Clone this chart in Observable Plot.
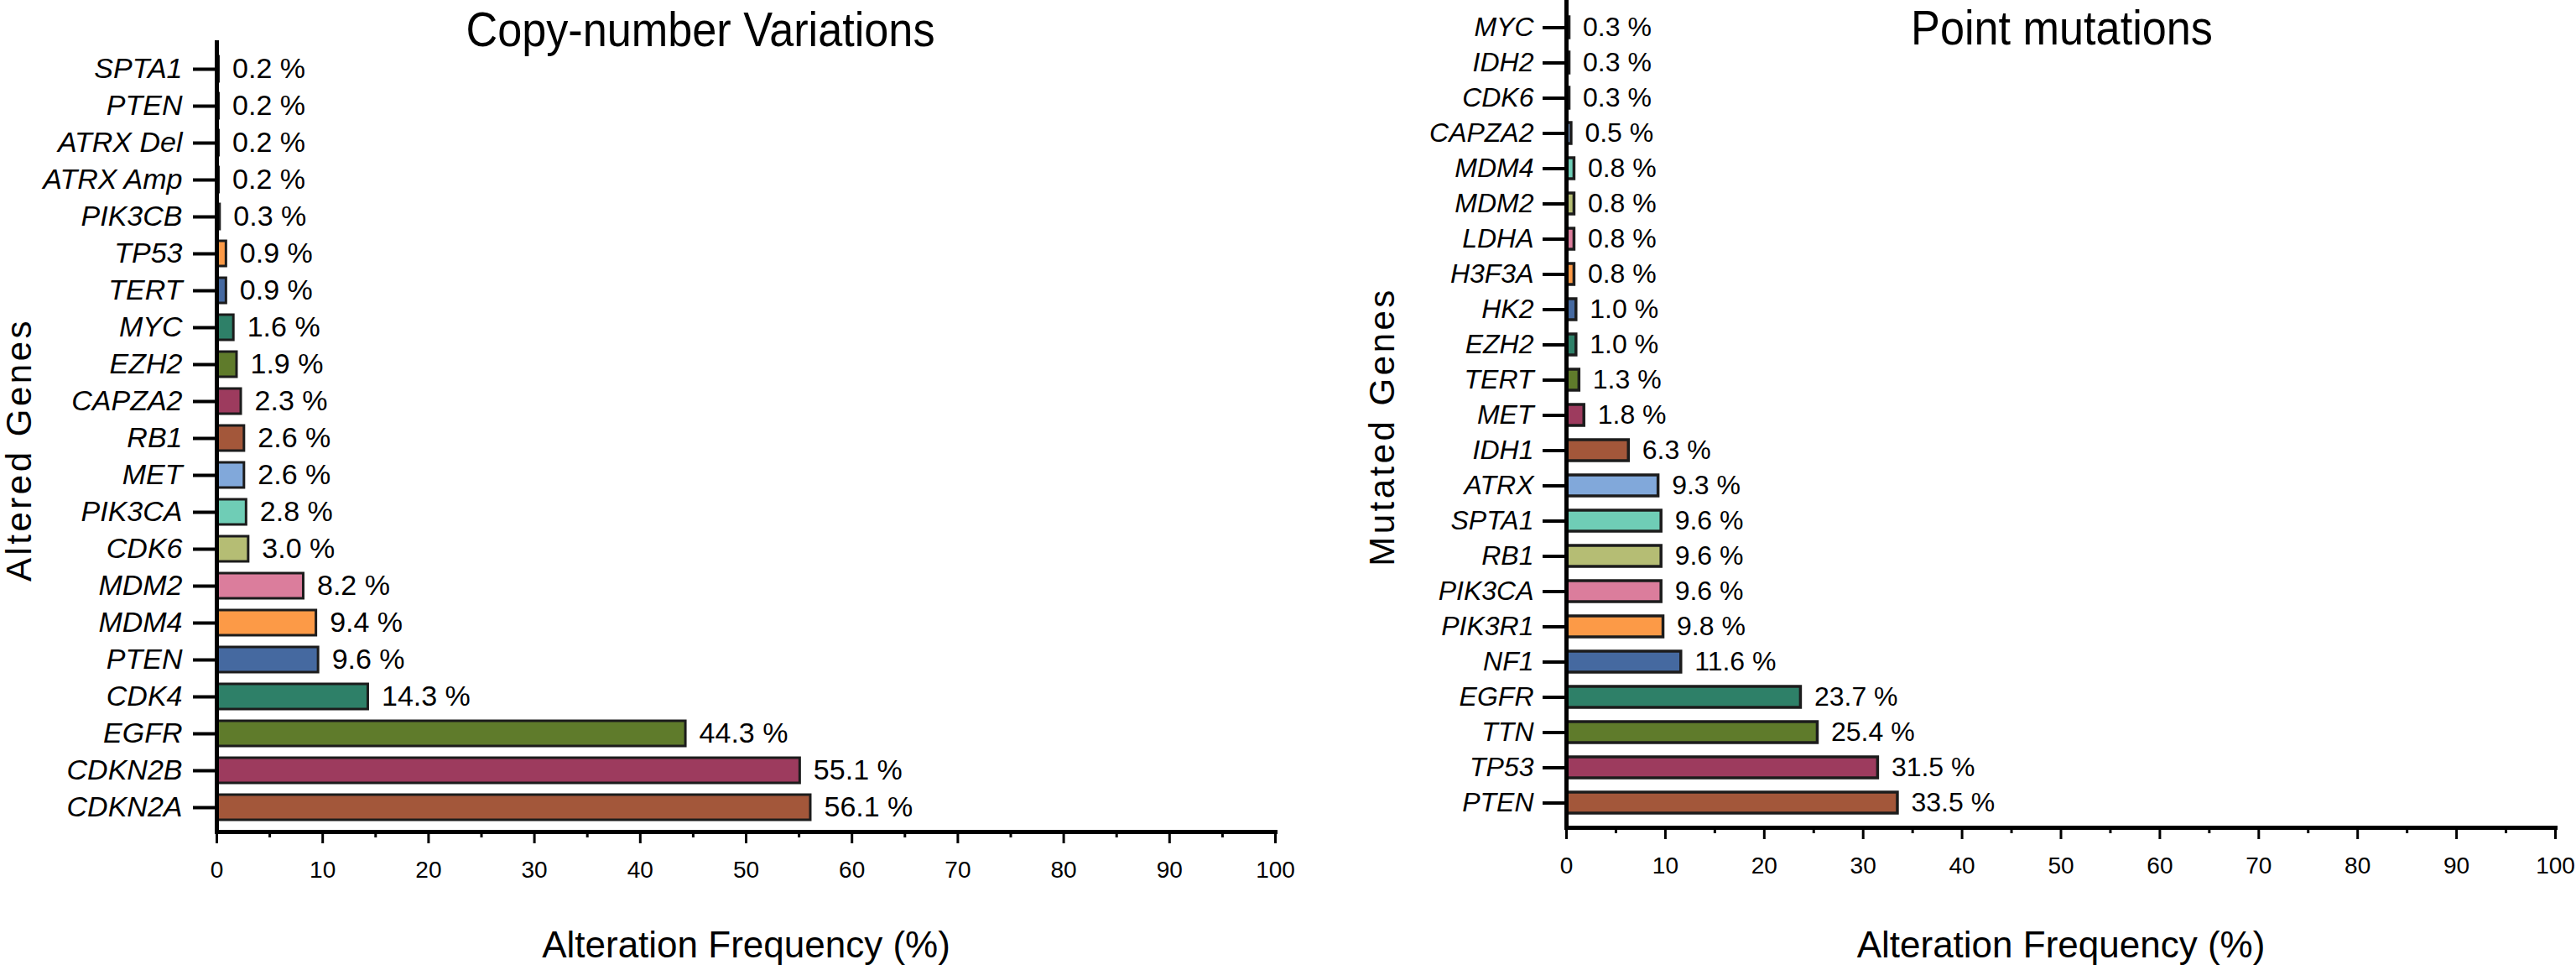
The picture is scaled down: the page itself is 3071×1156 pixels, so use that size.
<!DOCTYPE html>
<html>
<head>
<meta charset="utf-8">
<script src="https://cdn.jsdelivr.net/npm/d3@7"></script>
<script src="https://cdn.jsdelivr.net/npm/@observablehq/plot@0.6"></script>
<style>
  body { margin: 0; background: #fff; }
  #wrap { position: relative; width: 3071px; height: 1156px; overflow: hidden; background: #fff;
          font-family: "Liberation Sans", Arial, sans-serif; }
  .panel { position: absolute; top: 0; }
  .title { position: absolute; font-size: 58px; line-height: 1.15;
           transform: translateX(-50%) scaleX(0.9); white-space: nowrap; color: #000; }
  g[aria-label="y-axis label"] text { font-size: 42px; letter-spacing: 3.5px; font-style: normal; }
  g[aria-label="x-axis label"] text { font-size: 44px; font-style: normal; }
</style>
</head>
<body>
<div id="wrap">
  <div id="left" class="panel" style="left:0px"></div>
  <div id="right" class="panel" style="left:1600px"></div>
  <div class="title" style="left:835px; top:2px">Copy-number Variations</div>
  <div class="title" style="left:2458px; top:0px">Point mutations</div>
</div>
<script>
// ---- data (top-to-bottom order as drawn) ----
const cnvGenes = ["SPTA1","PTEN","ATRX Del","ATRX Amp","PIK3CB","TP53","TERT","MYC","EZH2","CAPZA2","RB1","MET","PIK3CA","CDK6","MDM2","MDM4","PTEN","CDK4","EGFR","CDKN2B","CDKN2A"];
const cnvValues = [0.2,0.2,0.2,0.2,0.3,0.9,0.9,1.6,1.9,2.3,2.6,2.6,2.8,3.0,8.2,9.4,9.6,14.3,44.3,55.1,56.1];

const pmGenes = ["MYC","IDH2","CDK6","CAPZA2","MDM4","MDM2","LDHA","H3F3A","HK2","EZH2","TERT","MET","IDH1","ATRX","SPTA1","RB1","PIK3CA","PIK3R1","NF1","EGFR","TTN","TP53","PTEN"];
const pmValues = [0.3,0.3,0.3,0.5,0.8,0.8,0.8,0.8,1.0,1.0,1.3,1.8,6.3,9.3,9.6,9.6,9.6,9.8,11.6,23.7,25.4,31.5,33.5];

const xTicks = [0,10,20,30,40,50,60,70,80,90,100];
const xMinorTicks = [5,15,25,35,45,55,65,75,85,95];
const xLabel = "Alteration Frequency (%)";

// colour cycle, assigned from the bottom bar upwards
const palette = ["#A3573A","#9D3B5E","#5F7B2B","#2E8068","#4569A0","#FC9A47","#DB7D9C","#B5BD74","#6FCDB6","#81A8DA"];

function panel(genes, values, o) {
  const n = genes.length;
  const rows = genes.map((g, i) => ({id: i, gene: g, value: values[i], fill: palette[(n - 1 - i) % palette.length]}));
  const svg = Plot.plot({
    width: o.width, height: 1156,
    marginLeft: o.marginLeft, marginRight: o.marginRight, marginTop: o.marginTop, marginBottom: o.marginBottom,
    style: {fontFamily: '"Liberation Sans", Arial, sans-serif', background: "white", color: "black", overflow: "visible"},
    x: {domain: [0, 100]},
    y: {domain: d3.range(n), paddingInner: o.padding, paddingOuter: o.padding / 2, insetTop: o.insetTop, insetBottom: o.insetBottom},
    color: {type: "identity"},
    marks: [
      Plot.barX(rows, {x: "value", y: "id", fill: "fill", stroke: "#1c1c1c", strokeWidth: o.barStroke}),
      Plot.text(rows, {x: "value", y: "id", text: d => d.value.toFixed(1) + " %", textAnchor: "start", dx: 16, fontSize: o.valueFont, fill: "black"}),
      Plot.axisY({tickSize: 28, tickPadding: o.yTickPadding, strokeWidth: 4, fontSize: o.tickFont, fontStyle: "italic",
                  tickFormat: i => genes[i], label: o.yLabel, labelAnchor: "center", labelOffset: o.yLabelOffset}),
      Plot.axisX({ticks: xTicks, tickSize: 14, tickPadding: 21, strokeWidth: 3, fontSize: 28,
                  label: xLabel, labelAnchor: "center", labelArrow: "none", labelOffset: o.xLabelOffset}),
      Plot.axisX({ticks: xMinorTicks, tickSize: 7, strokeWidth: 3, tickFormat: () => "", label: null}),
      Plot.frame({anchor: "left", strokeWidth: 5}),
      Plot.frame({anchor: "bottom", strokeWidth: 5})
    ]
  });
  // nudge the rotated y-axis title slightly down (negative local x of a -90° rotated text maps to screen down)
  d3.select(svg).selectAll('g[aria-label="y-axis label"] text').attr("x", -o.yLabelShift);
  return svg;
}

document.getElementById("left").appendChild(panel(cnvGenes, cnvValues, {
  width: 1600, marginLeft: 258, marginRight: 80, marginTop: 50, marginBottom: 165,
  insetTop: 10, insetBottom: 7, padding: 0.32, barStroke: 3,
  valueFont: 34, tickFont: 34, yTickPadding: 13,
  yLabel: "Altered Genes", yLabelOffset: 251, yLabelShift: 15, xLabelOffset: 149
}));

document.getElementById("right").appendChild(panel(pmGenes, pmValues, {
  width: 1471, marginLeft: 267, marginRight: 25, marginTop: 0, marginBottom: 170,
  insetTop: 7, insetBottom: 3, padding: 0.4, barStroke: 3.5,
  valueFont: 32, tickFont: 32, yTickPadding: 11,
  yLabel: "Mutated Genes", yLabelOffset: 235, yLabelShift: 15, xLabelOffset: 154
}));
</script>
</body>
</html>
